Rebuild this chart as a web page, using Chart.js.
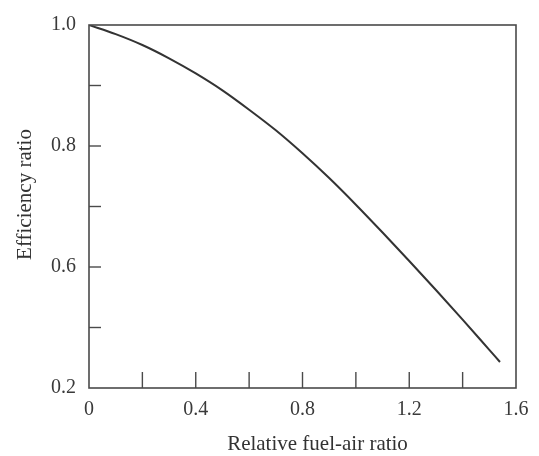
<!DOCTYPE html>
<html>
<head>
<meta charset="utf-8">
<script src="https://cdn.jsdelivr.net/npm/chart.js@4.4.1/dist/chart.umd.min.js"></script>
<style>
  html, body { margin: 0; padding: 0; background: #ffffff; }
  #wrap { width: 539px; height: 456px; }
</style>
</head>
<body>
<div id="wrap"><canvas id="c" width="539" height="456"></canvas></div>
<script>
// Data
const fuelAirRatio    = [0, 0.1, 0.2, 0.3, 0.4, 0.5, 0.6, 0.7, 0.8, 0.9, 1.0, 1.1, 1.2, 1.3, 1.4, 1.5, 1.54];
const efficiencyRatio = [1.0, 0.985, 0.967, 0.945, 0.920, 0.892, 0.860, 0.826, 0.788, 0.747, 0.703, 0.657, 0.610, 0.562, 0.513, 0.463, 0.443];

// Tick labels as printed on the reference
const xTickValues = [0, 0.4, 0.8, 1.2, 1.6];
const xTickLabels = ["0", "0.4", "0.8", "1.2", "1.6"];
const yTickValues = [0.4, 0.6, 0.8, 1.0];
const yTickLabels = ["0.2", "0.6", "0.8", "1.0"];

const xTitle = "Relative fuel-air ratio";
const yTitle = "Efficiency ratio";

const points = fuelAirRatio.map((x, i) => ({ x: x, y: efficiencyRatio[i] }));

function lookup(values, labels, v) {
  for (let i = 0; i < values.length; i++) {
    if (Math.abs(values[i] - v) < 1e-6) return labels[i];
  }
  return "";
}

const FONT = '"Liberation Serif", "DejaVu Serif", serif';
const AXIS_COLOR = '#4a4a4a';

const framePlugin = {
  id: 'frame',
  afterDraw(chart) {
    const { ctx, chartArea: a, scales } = chart;
    const xs = scales.x, ys = scales.y;
    ctx.save();
    ctx.strokeStyle = AXIS_COLOR;
    ctx.lineWidth = 1.6;
    ctx.strokeRect(a.left, a.top, a.right - a.left, a.bottom - a.top);
    ctx.lineWidth = 1.4;
    // inward ticks on x axis
    xs.ticks.forEach(t => {
      const px = xs.getPixelForValue(t.value);
      if (px <= a.left + 1 || px >= a.right - 1) return;
      ctx.beginPath();
      ctx.moveTo(px, a.bottom);
      ctx.lineTo(px, a.bottom - 16);
      ctx.stroke();
    });
    // inward ticks on y axis
    ys.ticks.forEach(t => {
      const py = ys.getPixelForValue(t.value);
      if (py <= a.top + 1 || py >= a.bottom - 1) return;
      ctx.beginPath();
      ctx.moveTo(a.left, py);
      ctx.lineTo(a.left + 12, py);
      ctx.stroke();
    });
    // axis titles
    ctx.fillStyle = '#333333';
    ctx.font = '21px ' + FONT;
    ctx.textAlign = 'center';
    ctx.textBaseline = 'alphabetic';
    ctx.fillText(xTitle, (a.left + a.right) / 2 + 15, 450);
    ctx.translate(31, (a.top + a.bottom) / 2 - 12);
    ctx.rotate(-Math.PI / 2);
    ctx.fillText(yTitle, 0, 0);
    ctx.restore();
  }
};

new Chart(document.getElementById('c'), {
  type: 'line',
  data: {
    datasets: [{
      data: points,
      borderColor: '#333333',
      borderWidth: 2,
      pointRadius: 0,
      fill: false,
      cubicInterpolationMode: 'monotone'
    }]
  },
  options: {
    responsive: false,
    animation: false,
    devicePixelRatio: 1,
    layout: { padding: { left: 0, right: 23, top: 24, bottom: 0 } },
    plugins: { legend: { display: false }, tooltip: { enabled: false } },
    scales: {
      x: {
        type: 'linear',
        min: 0, max: 1.6,
        grid: { display: false, drawTicks: false },
        border: { display: false },
        afterFit(s) { s.height = 68; },
        ticks: {
          stepSize: 0.2,
          autoSkip: false,
          maxRotation: 0,
          padding: 10,
          color: '#3a3a3a',
          font: { family: FONT, size: 20 },
          callback: v => lookup(xTickValues, xTickLabels, v)
        }
      },
      y: {
        type: 'linear',
        min: 0.4, max: 1.0,
        grid: { display: false, drawTicks: false },
        border: { display: false },
        afterFit(s) { s.width = 89; },
        ticks: {
          stepSize: 0.1,
          autoSkip: false,
          padding: 13,
          color: '#3a3a3a',
          font: { family: FONT, size: 20 },
          callback: v => lookup(yTickValues, yTickLabels, v)
        }
      }
    }
  },
  plugins: [framePlugin]
});
</script>
</body>
</html>
